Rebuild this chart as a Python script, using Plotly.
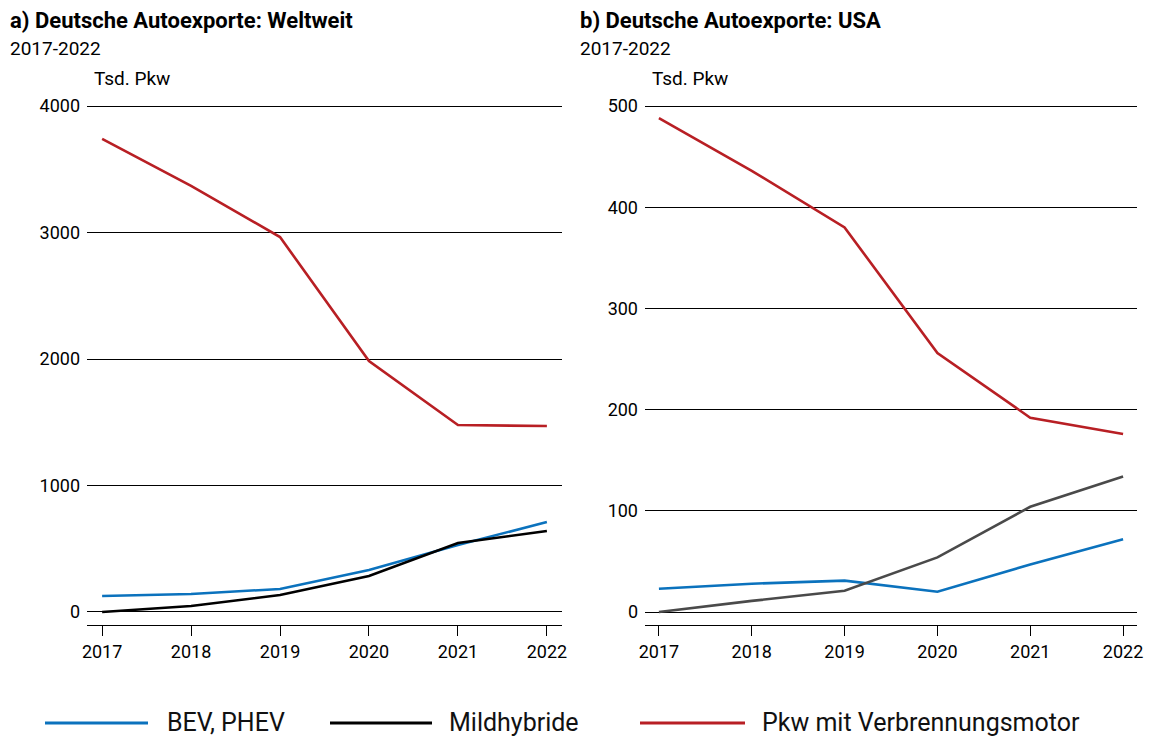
import plotly.graph_objects as go

years = [2017, 2018, 2019, 2020, 2021, 2022]

# a) Weltweit (Tsd. Pkw)
world_bev = [126, 142, 182, 332, 530, 711]
world_mild = [0, 47, 134, 285, 545, 640]
world_ice = [3740, 3368, 2964, 1984, 1478, 1470]

# b) USA (Tsd. Pkw)
usa_bev = [23, 28, 31, 20, 47, 72]
usa_mild = [0, 11, 21, 54, 104, 134]
usa_ice = [488, 436, 380, 256, 192, 176]

legend_names = ["BEV, PHEV", "Mildhybride", "Pkw mit Verbrennungsmotor"]
titles = ["<b>a) Deutsche Autoexporte: Weltweit</b>", "<b>b) Deutsche Autoexporte: USA</b>"]
subtitle = "2017-2022"
unit = "Tsd. Pkw"

BLUE = "#0b72bd"
RED = "#b81f24"
BLACK = "#000000"
GRAY = "#4a4a4a"
FONT = "Roboto"

W, H = 1149, 738
def px(x):
    return x / W
def py(y):
    return 1 - y / H

fig = go.Figure()

def add(x, y, color, xa, ya):
    fig.add_trace(go.Scatter(x=x, y=y, mode="lines", line=dict(color=color, width=2.6),
                             xaxis=xa, yaxis=ya, showlegend=False, hoverinfo="x+y"))

add(years, world_bev, BLUE, "x", "y")
add(years, world_mild, BLACK, "x", "y")
add(years, world_ice, RED, "x", "y")
add(years, usa_bev, BLUE, "x2", "y2")
add(years, usa_mild, GRAY, "x2", "y2")
add(years, usa_ice, RED, "x2", "y2")

# plot area from y=104 (top) to 625 (x axis line)
ydom = [py(625), py(104)]
xcommon = dict(showgrid=False, zeroline=False, showline=True, linecolor="#000", linewidth=1,
               ticks="outside", ticklen=10, tickcolor="#000", tickwidth=1,
               tickvals=years, ticktext=[str(y) for y in years],
               tickfont=dict(family=FONT, size=18, color="#000"), fixedrange=True)
ycommon = dict(showgrid=True, gridcolor="#000", gridwidth=1, zeroline=False, showline=False,
               ticks="", tickfont=dict(family=FONT, size=18, color="#000"), fixedrange=True)

fig.update_layout(
    width=W, height=H,
    margin=dict(l=0, r=0, t=0, b=0, autoexpand=False),
    paper_bgcolor="white", plot_bgcolor="white",
    showlegend=False,
    xaxis=dict(domain=[px(87), px(562)], range=[2016.83, 2022.17], anchor="y", **xcommon),
    yaxis=dict(domain=ydom, range=[-103, 4016], tickvals=[0, 1000, 2000, 3000, 4000],
               anchor="x", ticklabelstandoff=6, **ycommon),
    xaxis2=dict(domain=[px(645), px(1137)], range=[2016.85, 2022.15], anchor="y2", **xcommon),
    yaxis2=dict(domain=ydom, range=[-12.8, 502.0], tickvals=[0, 100, 200, 300, 400, 500],
                anchor="x2", ticklabelstandoff=6, **ycommon),
)

annotations = []
for xpx, t in [(8, titles[0]), (578, titles[1])]:
    annotations.append(dict(x=px(xpx), y=py(20), xref="paper", yref="paper", text=t,
                            showarrow=False, xanchor="left", yanchor="middle",
                            font=dict(family=FONT, size=22, color="#000")))
    annotations.append(dict(x=px(xpx), y=py(49), xref="paper", yref="paper", text=subtitle,
                            showarrow=False, xanchor="left", yanchor="middle",
                            font=dict(family=FONT, size=19, color="#000")))
for xpx in [92, 650]:
    annotations.append(dict(x=px(xpx), y=py(78), xref="paper", yref="paper", text=unit,
                            showarrow=False, xanchor="left", yanchor="middle",
                            font=dict(family=FONT, size=19, color="#000")))

# manual legend
shapes = []
leg = [(45, 148, 165, BLUE, legend_names[0]),
       (330, 432, 447, BLACK, legend_names[1]),
       (640, 745, 760, RED, legend_names[2])]
for x0, x1, tx, c, name in leg:
    shapes.append(dict(type="line", xref="paper", yref="paper", x0=px(x0), x1=px(x1),
                       y0=py(723), y1=py(723), line=dict(color=c, width=3)))
    annotations.append(dict(x=px(tx), y=py(722), xref="paper", yref="paper", text=name,
                            showarrow=False, xanchor="left", yanchor="middle",
                            font=dict(family=FONT, size=25, color="#111")))

fig.update_layout(annotations=annotations, shapes=shapes)

fig.write_html("out.html", config={"displayModeBar": False},
               post_script="document.body.style.margin='0';document.body.style.overflow='hidden';")
